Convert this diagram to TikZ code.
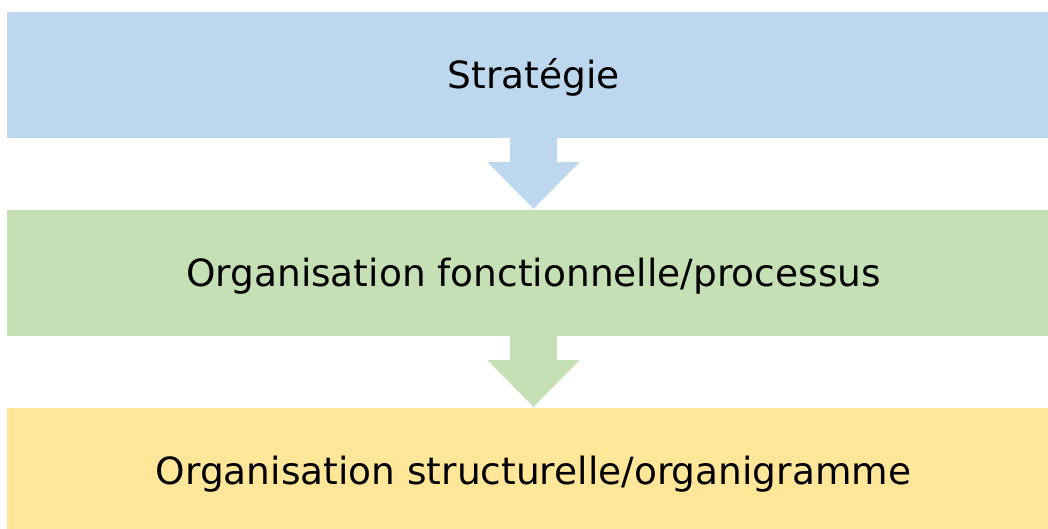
\documentclass[tikz,border=0pt]{standalone}
\usepackage{fontspec}
\setmainfont{DejaVu Sans}
\usepackage{tikz}

\definecolor{stratblue}{HTML}{BDD7EE}
\definecolor{procgreen}{HTML}{C5E0B4}
\definecolor{orgyellow}{HTML}{FFE699}

\tikzset{
  band/.style={rectangle, inner sep=0pt, minimum width=1053pt, minimum height=126pt,
    text height=28pt, text depth=2pt, font=\fontsize{37.5}{45}\selectfont, text=black},
}

\begin{document}
\begin{tikzpicture}[x=1pt,y=-1pt]
% Frame
\clip (0,0) rectangle (1048,528);
\fill[white] (0,0) rectangle (1048,528);

% Bands
\node[band, fill=stratblue] (strat) at (533.5,75) {Stratégie};
\node[band, fill=procgreen] (proc) at (533.5,273) {Organisation fonctionnelle/processus};
\node[band, fill=orgyellow] (orga) at (533.5,471) {Organisation structurelle/organigramme};

% Arrows between bands
\fill[stratblue] ([xshift=-23.5pt]strat.south) -- ([xshift=-23.5pt,yshift=-24pt]strat.south)
  -- ([xshift=-46pt,yshift=-24pt]strat.south) -- ([yshift=1pt]proc.north)
  -- ([xshift=46pt,yshift=-24pt]strat.south) -- ([xshift=23.5pt,yshift=-24pt]strat.south)
  -- ([xshift=23.5pt]strat.south) -- cycle;
\fill[procgreen] ([xshift=-23.5pt]proc.south) -- ([xshift=-23.5pt,yshift=-24pt]proc.south)
  -- ([xshift=-46pt,yshift=-24pt]proc.south) -- ([yshift=1pt]orga.north)
  -- ([xshift=46pt,yshift=-24pt]proc.south) -- ([xshift=23.5pt,yshift=-24pt]proc.south)
  -- ([xshift=23.5pt]proc.south) -- cycle;

\end{tikzpicture}
\end{document}
